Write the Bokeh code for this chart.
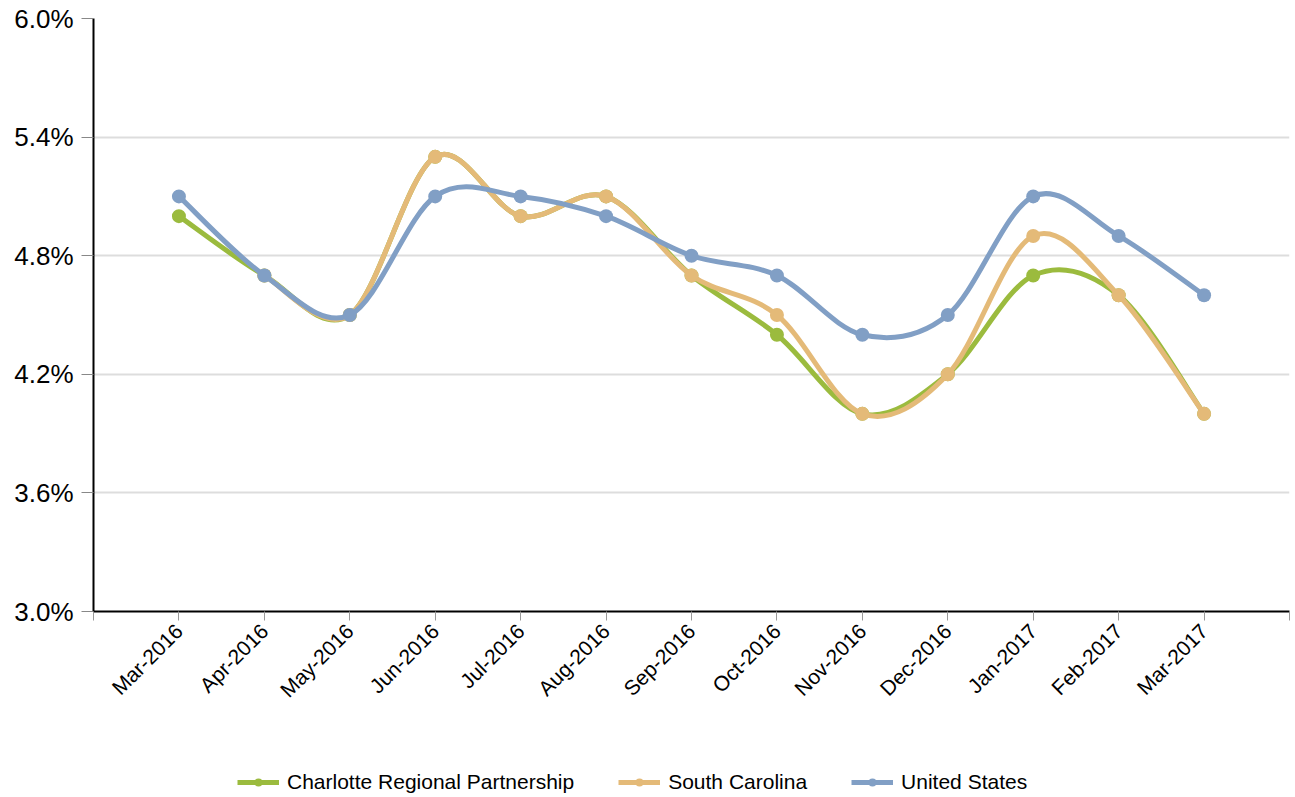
import math
from bokeh.plotting import figure
from bokeh.layouts import column
from bokeh.models import (ColumnDataSource, Range1d, FixedTicker, PrintfTickFormatter,
                          Legend, LegendItem)
from bokeh.embed import file_html
from bokeh.resources import INLINE

months = ["Mar-2016", "Apr-2016", "May-2016", "Jun-2016", "Jul-2016", "Aug-2016",
          "Sep-2016", "Oct-2016", "Nov-2016", "Dec-2016", "Jan-2017", "Feb-2017", "Mar-2017"]
charlotte = [5.0, 4.7, 4.5, 5.3, 5.0, 5.1, 4.7, 4.4, 4.0, 4.2, 4.7, 4.6, 4.0]
south_carolina = [None, 4.7, 4.5, 5.3, 5.0, 5.1, 4.7, 4.5, 4.0, 4.2, 4.9, 4.6, 4.0]
united_states = [5.1, 4.7, 4.5, 5.1, 5.1, 5.0, 4.8, 4.7, 4.4, 4.5, 5.1, 4.9, 4.6]
y_ticks = [3.0, 3.6, 4.2, 4.8, 5.4, 6.0]

names = ["Charlotte Regional Partnership", "South Carolina", "United States"]
series = [charlotte, south_carolina, united_states]
colors = ["#9BBB3E", "#E4BA78", "#819FC5"]

FONT = "Liberation Sans"

p = figure(width=1292, height=716, frame_width=1196, frame_height=593,
           output_backend="svg", toolbar_location=None,
           x_range=Range1d(-1, 13), y_range=Range1d(3.0, 6.0),
           min_border_left=93, min_border_right=3, min_border_top=18,
           min_border_bottom=105)
p.outline_line_color = None
p.background_fill_color = "white"

p.xgrid.grid_line_color = None
p.ygrid.grid_line_color = "#DDDDDD"
p.ygrid.grid_line_width = 2

p.yaxis.ticker = FixedTicker(ticks=y_ticks)
p.yaxis.formatter = PrintfTickFormatter(format="%.1f%%")
p.yaxis.axis_line_color = "black"
p.yaxis.axis_line_width = 2
p.yaxis.major_tick_line_color = "#888888"
p.yaxis.major_tick_out = 12
p.yaxis.major_tick_in = 0
p.yaxis.minor_tick_line_color = None
p.yaxis.major_label_text_font = FONT
p.yaxis.major_label_text_font_size = "26px"
p.yaxis.major_label_text_color = "black"
p.yaxis.major_label_standoff = 8

p.xaxis.ticker = FixedTicker(ticks=list(range(-1, 14)))
overrides = {i: m for i, m in enumerate(months)}
overrides[-1] = ""
overrides[13] = ""
p.xaxis.major_label_overrides = overrides
p.xaxis.major_label_orientation = math.pi / 4
p.xaxis.axis_line_color = "black"
p.xaxis.axis_line_width = 2
p.xaxis.major_tick_line_color = "#999999"
p.xaxis.major_tick_out = 9
p.xaxis.major_tick_in = 0
p.xaxis.minor_tick_line_color = None
p.xaxis.major_label_text_font = FONT
p.xaxis.major_label_text_font_size = "21px"
p.xaxis.major_label_text_color = "black"
p.xaxis.major_label_standoff = 7

# legend strip: same series drawn outside its visible range, only the legend shows
p2 = figure(width=1292, height=78, output_backend="svg", toolbar_location=None,
            x_range=Range1d(100, 101), y_range=Range1d(100, 101),
            x_axis_location=None, y_axis_location=None,
            min_border_left=0, min_border_right=0, min_border_top=0, min_border_bottom=0)
p2.outline_line_color = None
p2.xgrid.grid_line_color = None
p2.ygrid.grid_line_color = None

legend_items = []
for name, vals, col in zip(names, series, colors):
    xs = [i for i, v in enumerate(vals) if v is not None]
    ys = [v for v in vals if v is not None]
    n = len(xs)
    x0, y0, x1, y1, cx0, cy0, cx1, cy1 = [], [], [], [], [], [], [], []
    for i in range(n - 1):
        pxm, pym = (xs[i - 1], ys[i - 1]) if i > 0 else (xs[i], ys[i])
        pxp, pyp = (xs[i + 2], ys[i + 2]) if i + 2 < n else (xs[i + 1], ys[i + 1])
        x0.append(xs[i]); y0.append(ys[i])
        x1.append(xs[i + 1]); y1.append(ys[i + 1])
        cx0.append(xs[i] + (xs[i + 1] - pxm) / 6.0)
        cy0.append(ys[i] + (ys[i + 1] - pym) / 6.0)
        cx1.append(xs[i + 1] - (pxp - xs[i]) / 6.0)
        cy1.append(ys[i + 1] - (pyp - ys[i]) / 6.0)
    src = ColumnDataSource(dict(x0=x0, y0=y0, x1=x1, y1=y1, cx0=cx0, cy0=cy0, cx1=cx1, cy1=cy1))
    p.bezier(x0="x0", y0="y0", x1="x1", y1="y1", cx0="cx0", cy0="cy0", cx1="cx1", cy1="cy1",
             source=src, line_color=col, line_width=5, line_cap="round")
    p.scatter(x=xs, y=ys, size=14, marker="circle", fill_color=col, line_color=None)

    leg_line = p2.line(x=xs, y=ys, line_color=col, line_width=5)
    leg_pts = p2.scatter(x=xs, y=ys, size=9, marker="circle", fill_color=col, line_color=None)
    legend_items.append(LegendItem(label=name, renderers=[leg_line, leg_pts]))

legend = Legend(items=legend_items, orientation="horizontal", location=(144, 0),
                label_text_font=FONT, label_text_font_size="21px", label_text_color="black",
                glyph_width=42, glyph_height=20, label_standoff=8, spacing=44,
                border_line_color=None, background_fill_alpha=0,
                margin=0, padding=0)
p2.add_layout(legend, "center")

layout = column(p, p2, spacing=0)
open("out.html", "w").write(file_html(layout, INLINE))
